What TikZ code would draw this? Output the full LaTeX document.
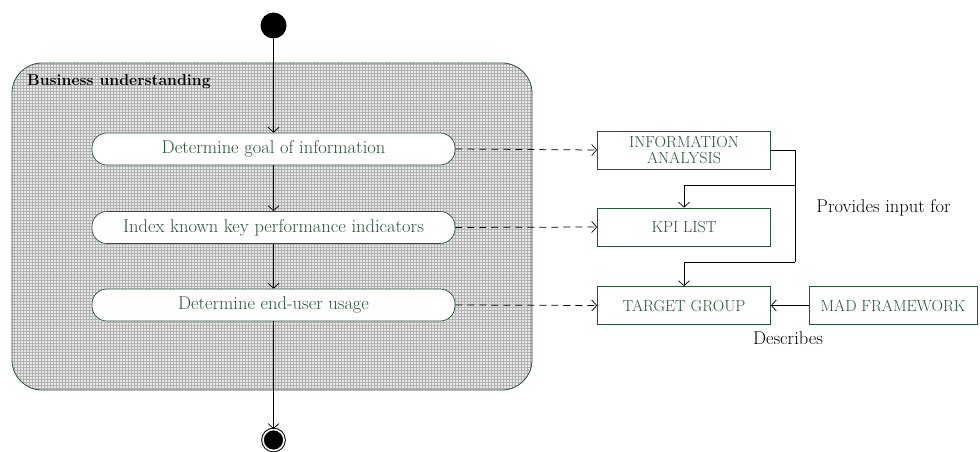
\documentclass[tikz,border=0pt]{standalone}
\usepackage{fontspec}
\usetikzlibrary{arrows.meta}
\definecolor{dgreen}{RGB}{40,85,55}
\begin{document}
\begin{tikzpicture}[x=1pt,y=-1pt,
  tip/.style={-{Straight Barb[length=5pt,width=11pt,line width=0.7pt]}},
  flow/.style={tip, line width=0.7pt, black},
  dashflow/.style={tip, line width=0.75pt, black, dash pattern=on 7pt off 5pt},
  container/.style={draw=dgreen, line width=0.8pt, rounded corners=30pt, fill=gray!18,
    path picture={\draw[gray!60, line width=0.45pt, step=3pt] ([shift={(-3pt,-3pt)}]path picture bounding box.south west) grid ([shift={(3pt,3pt)}]path picture bounding box.north east);}},
  action/.style={draw=dgreen, line width=0.7pt, fill=white, rounded corners=15pt, minimum width=363pt, minimum height=32pt, text=dgreen, font=\fontsize{18.5}{20}\selectfont, inner sep=0pt},
  box/.style={draw=dgreen, line width=0.7pt, fill=white, minimum width=173pt, minimum height=38pt, text=dgreen, align=center, font=\fontsize{16}{15.5}\selectfont, inner sep=0pt},
  lab/.style={font=\fontsize{18.5}{20}\selectfont, text=black, inner sep=0pt}
]
\useasboundingbox (0,0) rectangle (980,451);
\node[container, minimum width=520pt, minimum height=327pt, inner sep=0pt] (bu) at (272,226.5) {};
\node[anchor=west, font=\bfseries\fontsize{15.8}{18}\selectfont, inner sep=0pt] (bul) at (27,82) {Business understanding};

\node[circle, fill=black, minimum size=26pt, inner sep=0pt] (start) at (273.5,25.5) {};
\node[circle, fill=black, draw=black, double=white, double distance=1.6pt, line width=1pt, minimum size=21pt, inner sep=0pt] (end) at (273.5,440) {};

\node[action] (a1) at (273.5,149) {Determine goal of information};
\node[action] (a2) at (273.5,227.5) {Index known key performance indicators};
\node[action] (a3) at (273.5,305) {Determine end-user usage};

\node[box] (ia) at (684,150) {INFORMATION\\ANALYSIS};
\node[box] (kpi) at (684,227) {KPI LIST};
\node[box] (tg) at (684,305.5) {TARGET GROUP};
\node[box, minimum width=168pt] (mad) at (893,305.5) {MAD FRAMEWORK};

\draw[flow] (start) -- (a1);
\draw[flow] (a1) -- (a2);
\draw[flow] (a2) -- (a3);
\draw[flow] (a3) -- (end);

\draw[dashflow] (a1.east) -- (ia.west);
\draw[dashflow] (a2.east) -- (kpi.west);
\draw[dashflow] (a3.east) -- (tg.west);

\coordinate (j1) at (795,185);
\coordinate (j2) at (795,262);
\draw[line width=0.7pt] (ia.east) -| (j2);
\draw[flow] (j1) -| (kpi.north);
\draw[flow] (j2) -| (tg.north);
\draw[flow] (mad.west) -- (tg.east);

\node[lab] (pif) at (883.5,208) {Provides input for};
\node[lab] (desc) at (788,338) {Describes};
\end{tikzpicture}
\end{document}
